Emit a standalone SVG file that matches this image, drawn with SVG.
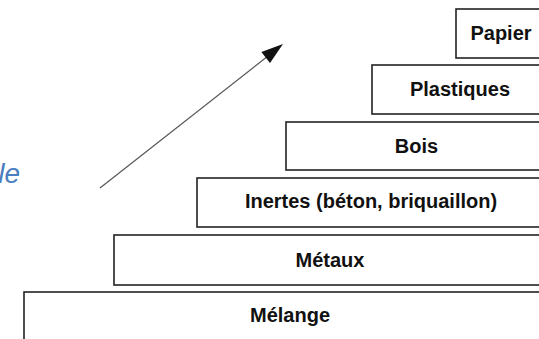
<svg xmlns="http://www.w3.org/2000/svg" width="539" height="339" viewBox="0 0 539 339">
<style>
.box{fill:#ffffff;stroke:#222222;stroke-width:1.6}
.lbl{font-family:"Liberation Sans",Arial,sans-serif;font-weight:bold;font-size:20px;fill:#111111;text-anchor:middle}
.side{font-family:"Liberation Sans",Arial,sans-serif;font-style:italic;font-size:28px;fill:#4a7ec0;text-anchor:end}
.arr{stroke:#555555;stroke-width:1.2;fill:none}
</style>
<rect width="539" height="339" fill="#ffffff"/>
<text class="side" x="20" y="183">le</text>
<g id="connectors">
<line class="arr" x1="100" y1="188" x2="268" y2="56"/>
<polygon points="283,44 270,63.1 261.4,52.1" fill="#111111"/>
</g>
<g id="papier">
<rect class="box" x="456" y="9" width="100" height="49"/>
<text class="lbl" x="501" y="40">Papier</text>
</g>
<g id="plastiques">
<rect class="box" x="372" y="65" width="190" height="49"/>
<text class="lbl" x="460" y="96">Plastiques</text>
</g>
<g id="bois">
<rect class="box" x="286" y="122" width="270" height="48"/>
<text class="lbl" x="416.5" y="153">Bois</text>
</g>
<g id="inertes">
<rect class="box" x="197" y="178" width="360" height="49"/>
<text class="lbl" x="371" y="208">Inertes (béton, briquaillon)</text>
</g>
<g id="metaux">
<rect class="box" x="114" y="235" width="440" height="50"/>
<text class="lbl" x="330" y="267">Métaux</text>
</g>
<g id="melange">
<rect class="box" x="24" y="292" width="540" height="60"/>
<text class="lbl" x="290" y="322">Mélange</text>
</g>
</svg>
